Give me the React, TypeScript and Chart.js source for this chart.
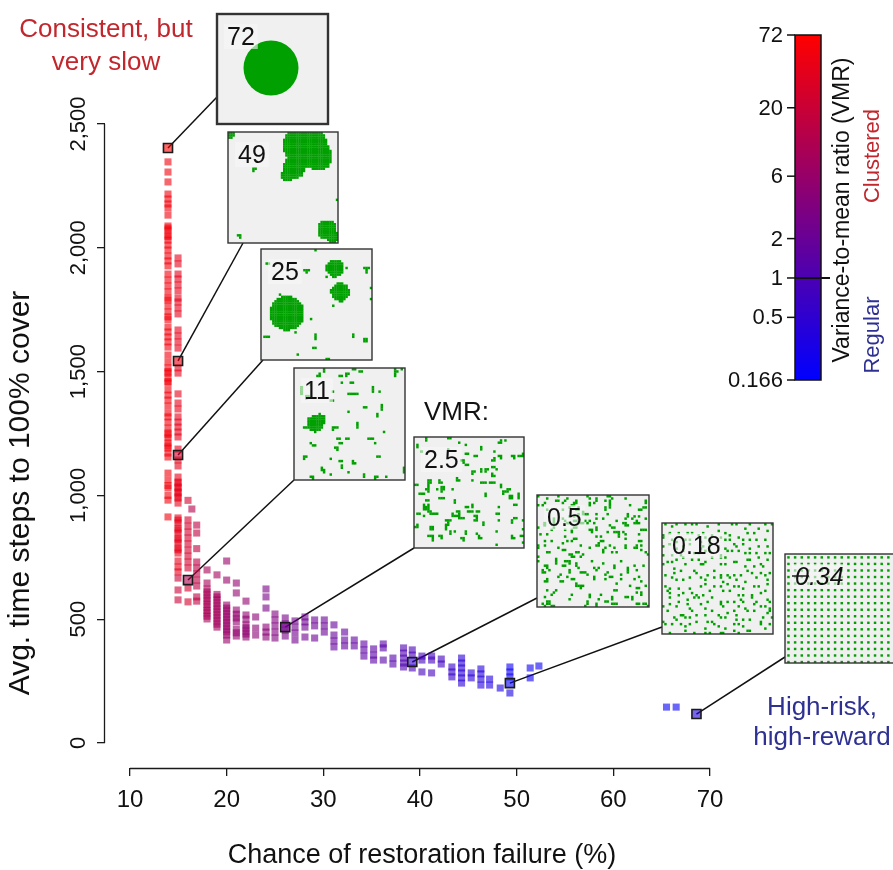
import { useEffect, useRef } from 'react';
import { Chart, registerables } from 'chart.js';

Chart.register(...registerables);

const FONT = '"Liberation Sans", Arial, sans-serif';

// ---------- data ----------
const xTicks = [10, 20, 30, 40, 50, 60, 70];
const yTicks = [0, 500, 1000, 1500, 2000, 2500];
const xTitle = 'Chance of restoration failure (%)';
const yTitle = 'Avg. time steps to 100% cover';
const vmrTicks = [72, 20, 6, 2, 1, 0.5, 0.166];
const vmrTickLabels = ['72', '20', '6', '2', '1', '0.5', '0.166'];
const vmrRange = [0.166, 72];
const colorbarTitle = 'Variance-to-mean ratio (VMR)';

// groups of simulation runs: failure %, VMR and the time-steps of each run
const groupFailure = [
  13.93, 14.97, 14.97, 16.0, 16.4, 16.9, 17.97, 19.0, 20.0, 21.0, 22.0, 23.0, 24.07, 24.07,
  25.0, 26.06, 27.07, 28.1, 29.1, 30.1, 31.1, 32.2, 33.2, 34.2, 35.2, 36.2, 37.2, 38.3,
  39.2, 40.2, 41.2, 42.2, 43.3, 44.3, 45.3, 46.3, 47.2, 48.3, 49.3, 49.3, 51.4, 52.3, 65.5, 66.5,
];
const groupVmr = [
  55, 40, 20, 25, 12, 15, 9, 8, 6, 5.5, 5, 4.5, 3, 4.5,
  3.5, 2.8, 2.5, 2.3, 2.1, 2.0, 1.8, 1.7, 1.6, 1.5, 1.4, 1.3, 1.2, 1.1,
  0.9, 0.85, 0.8, 0.75, 0.6, 0.45, 0.45, 0.4, 0.35, 0.3, 0.3, 0.22, 0.22, 0.22, 0.2, 0.2,
];
const groupTimes = [
  [2347, 2306, 2266, 2217, 2197, 2177, 2161, 2132, 2088, 2080, 2072, 2052, 2045, 2031, 2011, 1991,
    1967, 1947, 1927, 1894, 1870, 1846, 1822, 1797, 1789, 1765, 1741, 1721, 1710, 1680, 1660, 1640,
    1620, 1599, 1567, 1539, 1515, 1500, 1494, 1474, 1460, 1454, 1426, 1405, 1385, 1361, 1333, 1317,
    1296, 1272, 1252, 1245, 1232, 1212, 1200, 1191, 1171, 1155, 1090, 1062, 1040, 1030, 1000, 981, 913],
  [1959, 1935, 1894, 1874, 1850, 1826, 1797, 1781, 1757, 1733, 1668, 1644, 1620, 1595, 1515, 1494,
    1410, 1373, 1349, 1317, 1296, 1276, 1256, 1236, 1187, 1143, 1119, 1074, 1054, 1050, 1034, 1030,
    1014, 1010, 994, 989, 969, 909, 900, 889, 868, 860, 848, 828, 820, 808, 788, 780, 767, 735, 711, 691],
  [666, 618, 578],
  [980, 901, 876, 852, 828, 804, 779, 755, 731, 707, 626, 570],
  [945],
  [880, 848, 785, 731, 707, 683, 658, 634, 590, 573],
  [699, 646, 622, 610, 598, 585, 574, 560, 549, 535, 525, 512, 501],
  [679, 600, 590, 578, 565, 553, 541, 529, 517, 505, 493, 480, 468],
  [735, 658, 557, 545, 533, 521, 509, 497, 485, 472, 460, 448, 436, 416],
  [646, 606, 537, 520, 505, 490, 460, 445, 432],
  [573, 517, 500, 477, 465, 452, 440, 428],
  [509, 464, 436],
  [622, 590, 545],
  [468, 448, 428],
  [521, 497, 473, 448, 424],
  [505, 481, 456, 432],
  [493, 468, 444, 416],
  [509, 489, 468, 428],
  [497, 473, 424],
  [497, 473, 448],
  [477, 436, 412, 388],
  [448, 416, 392],
  [416, 392],
  [400, 376, 351],
  [380, 355, 335],
  [400, 384, 335],
  [343, 319],
  [384, 363, 343, 323, 307],
  [376, 355, 303],
  [351, 335, 287],
  [351, 335, 283],
  [339, 319],
  [307, 287, 267],
  [343, 323, 303, 283, 263, 242],
  [283, 263],
  [299, 279, 258, 234],
  [258, 234],
  [222],
  [202],
  [307, 287, 267],
  [303, 263],
  [311],
  [145],
  [145],
];

// highlighted example runs shown as landscape insets
const exampleFailure = [13.93, 14.97, 14.97, 16.0, 26.06, 39.2, 49.3, 68.6];
const exampleTime = [2403, 1543, 1163, 658, 468, 327, 242, 117];
const exampleVmr = [72, 49, 25, 11, 2.5, 0.5, 0.18, 0.34];
const exampleLabels = ['72', '49', '25', '11', '2.5', '0.5', '0.18', '0.34'];

// ---------- layout (pixels) ----------
const W = 893;
const H = 870;
const AXIS_LEFT = 105;
const AXIS_BOTTOM = 768;
const X_PX_PER_UNIT = 580 / 60;
const Y_PX_PER_UNIT = 619 / 2500;
const X_MIN = 10 - (130 - AXIS_LEFT) / X_PX_PER_UNIT;
const X_MAX = X_MIN + (W - AXIS_LEFT) / X_PX_PER_UNIT;
const Y_MIN = -(AXIS_BOTTOM - 743) / Y_PX_PER_UNIT;
const Y_MAX = Y_MIN + AXIS_BOTTOM / Y_PX_PER_UNIT;

const insetBoxes = [
  { x: 217, y: 14, w: 111, h: 110, ax: 217, ay: 97, lw: 2.4 },
  { x: 228, y: 132, w: 110, h: 111, ax: 243, ay: 243, lw: 1.4 },
  { x: 261, y: 249, w: 111, h: 111, ax: 263, ay: 360, lw: 1.4 },
  { x: 294, y: 368, w: 111, h: 112, ax: 294, ay: 480, lw: 1.4 },
  { x: 414, y: 437, w: 110, h: 111, ax: 414, ay: 548, lw: 1.4 },
  { x: 537, y: 495, w: 112, h: 112, ax: 537, ay: 598, lw: 1.4 },
  { x: 662, y: 523, w: 111, h: 111, ax: 662, ay: 627, lw: 1.4 },
  { x: 785, y: 554, w: 111, h: 109, ax: 785, ay: 657, lw: 1.4 },
];

const CB = { left: 795, right: 821, top: 35, bottom: 380 };

// ---------- helpers ----------
const LMIN = Math.log10(vmrRange[0]);
const LMAX = Math.log10(vmrRange[1]);
function vmrT(v: number) {
  const t = (Math.log10(v) - LMIN) / (LMAX - LMIN);
  return Math.max(0, Math.min(1, t));
}
function vmrColor(v: number, a: number) {
  const t = vmrT(v);
  return `rgba(${Math.round(255 * t)},0,${Math.round(255 * (1 - t))},${a})`;
}

function mulberry(seed: number) {
  let a = seed;
  return () => {
    a |= 0;
    a = (a + 0x6d2b79f5) | 0;
    let t = Math.imul(a ^ (a >>> 15), 1 | a);
    t = (t + Math.imul(t ^ (t >>> 7), 61 | t)) ^ t;
    return ((t ^ (t >>> 14)) >>> 0) / 4294967296;
  };
}

type Circle = [number, number, number];
const insetCircles: Circle[][] = [
  [],
  [[35, 6, 10], [41, 11, 6.5], [30, 16, 5], [27, 19.5, 3], [0, 0, 3.5], [45, 44, 4.5], [47.5, 47, 3]],
  [[11.7, 28.8, 7.8], [33.3, 8.6, 4], [35.6, 19.4, 4.2]],
  [[9.5, 24.8, 3.8], [11.5, 23, 2.5]],
  [], [], [], [],
];
const insetSpecks: number[][][] = [
  [],
  [[11, 16], [12, 16], [11, 17], [4, 46], [5, 46], [5, 47], [49, 30], [26, 7]],
  [[2, 6], [3, 6], [19, 9], [20, 9], [21, 9], [20, 10], [29, 12], [46, 8], [47, 8], [48, 8], [47, 9],
    [47, 10], [49, 17], [49, 22], [22, 31], [24, 38], [24, 39], [24, 40], [23, 44], [24, 44], [1, 39],
    [2, 39], [3, 39], [41, 38], [41, 39], [46, 40], [47, 40], [46, 41], [47, 41], [16, 47], [29, 49],
    [30, 49], [24, 0], [32, 25], [38, 8], [8, 20], [15, 37]],
  [], [], [], [], [],
];

function buildCells(idx: number): boolean[] {
  const N = 50;
  const g: boolean[] = new Array(N * N).fill(false);
  const set = (x: number, y: number) => {
    if (x >= 0 && x < N && y >= 0 && y < N) g[y * N + x] = true;
  };
  for (const [cx, cy, r] of insetCircles[idx]) {
    for (let j = 0; j < N; j++)
      for (let i = 0; i < N; i++) {
        const dx = i + 0.5 - cx;
        const dy = j + 0.5 - cy;
        if (dx * dx + dy * dy <= r * r) set(i, j);
      }
  }
  for (const [x, y] of insetSpecks[idx]) set(x, y);
  const r = mulberry(1000 + idx * 77);
  const clumps = (count: number, maxSize: number) => {
    for (let k = 0; k < count; k++) {
      let cx = Math.floor(r() * N);
      let cy = Math.floor(r() * N);
      const n = 1 + Math.floor(r() * maxSize);
      const horiz = r() < 0.5;
      for (let s = 0; s < n; s++) {
        set(cx, cy);
        const q = r();
        if (q < 0.65) {
          if (horiz) cx++; else cy++;
        } else if (q < 0.85) {
          if (horiz) cy++; else cx++;
        } else {
          if (horiz) cy--; else cx--;
        }
      }
    }
  };
  if (idx === 3) {
    clumps(46, 3);
    clumps(8, 5);
  } else if (idx === 4) {
    clumps(105, 3);
  } else if (idx === 5) {
    for (let k = 0; k < 255; k++) {
      const x = Math.floor(r() * N);
      const y = Math.floor(r() * N);
      set(x, y);
      if (r() < 0.2) {
        if (r() < 0.5) set(x + 1, y); else set(x, y + 1);
      }
    }
  } else if (idx === 6) {
    for (let gx = 0; gx < 17; gx++)
      for (let gy = 0; gy < 17; gy++) {
        if (r() < 0.88) set(gx * 3 + Math.floor(r() * 3), gy * 3 + Math.floor(r() * 3));
      }
  } else if (idx === 7) {
    for (let gx = 1; gx < N; gx += 3) for (let gy = 1; gy < N; gy += 3) set(gx, gy);
  }
  return g;
}

const cellCache: boolean[][] = insetBoxes.map((_, i) => buildCells(i));

function rotatedText(ctx: CanvasRenderingContext2D, text: string, x: number, y: number) {
  ctx.save();
  ctx.translate(x, y);
  ctx.rotate(-Math.PI / 2);
  ctx.textAlign = 'center';
  ctx.textBaseline = 'middle';
  ctx.fillText(text, 0, 0);
  ctx.restore();
}

const GREEN = 'rgb(0,160,0)';

const decorPlugin = {
  id: 'decor',
  beforeDatasetsDraw(chart: any) {
    const ctx: CanvasRenderingContext2D = chart.ctx;
    const xs = chart.scales.x;
    const ys = chart.scales.y;
    ctx.save();
    ctx.strokeStyle = '#1a1a1a';
    ctx.lineWidth = 1.3;
    ctx.beginPath();
    ctx.moveTo(xs.getPixelForValue(xTicks[0]), AXIS_BOTTOM + 0.5);
    ctx.lineTo(xs.getPixelForValue(xTicks[xTicks.length - 1]), AXIS_BOTTOM + 0.5);
    ctx.moveTo(AXIS_LEFT - 0.5, ys.getPixelForValue(yTicks[0]));
    ctx.lineTo(AXIS_LEFT - 0.5, ys.getPixelForValue(yTicks[yTicks.length - 1]));
    ctx.stroke();
    ctx.lineWidth = 1.5;
    ctx.strokeStyle = '#111';
    insetBoxes.forEach((b, i) => {
      const px = xs.getPixelForValue(exampleFailure[i]);
      const py = ys.getPixelForValue(exampleTime[i]);
      ctx.beginPath();
      ctx.moveTo(px, py);
      ctx.lineTo(b.ax, b.ay);
      ctx.stroke();
    });
    ctx.restore();
  },
  afterDraw(chart: any) {
    const ctx: CanvasRenderingContext2D = chart.ctx;
    const ys = chart.scales.y;
    ctx.save();

    // y tick labels (rotated, R style)
    ctx.fillStyle = '#111';
    ctx.font = `22px ${FONT}`;
    ys.ticks.forEach((t: any) => {
      const py = ys.getPixelForValue(t.value);
      rotatedText(ctx, Number(t.value).toLocaleString('en-US'), 79, py);
    });

    // axis titles
    ctx.font = `27px ${FONT}`;
    ctx.fillStyle = '#111';
    ctx.textAlign = 'center';
    ctx.textBaseline = 'middle';
    ctx.fillText(xTitle, 422, 856);
    ctx.font = `30px ${FONT}`;
    rotatedText(ctx, yTitle, 21, 493);

    // insets
    insetBoxes.forEach((b, i) => {
      ctx.save();
      ctx.fillStyle = '#f0f0f0';
      ctx.fillRect(b.x, b.y, b.w, b.h);
      ctx.beginPath();
      ctx.rect(b.x, b.y, b.w, b.h);
      ctx.clip();
      const cells = cellCache[i];
      const cw = b.w / 50;
      const ch = b.h / 50;
      ctx.fillStyle = GREEN;
      if (i === 0) {
        ctx.beginPath();
        ctx.arc(b.x + 54, b.y + 54, 27.5, 0, Math.PI * 2);
        ctx.fill();
      }
      for (let j = 0; j < 50; j++)
        for (let k = 0; k < 50; k++) {
          if (cells[j * 50 + k]) ctx.fillRect(b.x + k * cw, b.y + j * ch, cw + 0.25, ch + 0.25);
        }
      const italic = exampleLabels[i] === '0.34';
      ctx.font = `${italic ? 'italic ' : ''}25px ${FONT}`;
      const tw = ctx.measureText(exampleLabels[i]).width;
      ctx.fillStyle = 'rgba(246,246,246,0.6)';
      ctx.fillRect(b.x + 7, b.y + 10, tw + 6, 25);
      ctx.fillStyle = '#111';
      ctx.textAlign = 'left';
      ctx.textBaseline = 'alphabetic';
      ctx.fillText(exampleLabels[i], b.x + 10, b.y + 31);
      if (italic) {
        ctx.strokeStyle = '#111';
        ctx.lineWidth = 1.4;
        ctx.beginPath();
        ctx.moveTo(b.x + 7, b.y + 22);
        ctx.lineTo(b.x + 24, b.y + 22);
        ctx.stroke();
      }
      ctx.restore();
      ctx.strokeStyle = '#333';
      ctx.lineWidth = b.lw;
      ctx.strokeRect(b.x, b.y, b.w, b.h);
    });

    // colour bar
    const grad = ctx.createLinearGradient(0, CB.top, 0, CB.bottom);
    grad.addColorStop(0, vmrColor(vmrRange[1], 1));
    grad.addColorStop(1, vmrColor(vmrRange[0], 1));
    ctx.fillStyle = grad;
    ctx.fillRect(CB.left, CB.top, CB.right - CB.left, CB.bottom - CB.top);
    ctx.strokeStyle = '#111';
    ctx.lineWidth = 1.5;
    ctx.strokeRect(CB.left, CB.top, CB.right - CB.left, CB.bottom - CB.top);
    const cbY = (v: number) => CB.bottom - vmrT(v) * (CB.bottom - CB.top);
    ctx.font = `22px ${FONT}`;
    ctx.fillStyle = '#111';
    ctx.textAlign = 'right';
    ctx.textBaseline = 'middle';
    vmrTicks.forEach((v, i) => {
      const y = cbY(v);
      ctx.beginPath();
      ctx.moveTo(CB.left - 8, y);
      ctx.lineTo(CB.left, y);
      ctx.stroke();
      ctx.fillText(vmrTickLabels[i], CB.left - 12, y + 1);
    });
    ctx.lineWidth = 1.8;
    ctx.beginPath();
    ctx.moveTo(CB.left, cbY(1));
    ctx.lineTo(CB.right + 9, cbY(1));
    ctx.stroke();
    ctx.font = `23px ${FONT}`;
    ctx.fillStyle = '#111';
    rotatedText(ctx, colorbarTitle, 843, 210);
    ctx.font = `22px ${FONT}`;
    ctx.fillStyle = '#c1272d';
    rotatedText(ctx, 'Clustered', 873, 156);
    ctx.fillStyle = '#2e3192';
    rotatedText(ctx, 'Regular', 873, 335);

    // annotations
    ctx.font = `26px ${FONT}`;
    ctx.textAlign = 'center';
    ctx.textBaseline = 'alphabetic';
    ctx.fillStyle = '#c1272d';
    ctx.fillText('Consistent, but', 106, 37);
    ctx.fillText('very slow', 106, 70);
    ctx.fillStyle = '#2e3192';
    ctx.fillText('High-risk,', 822, 715);
    ctx.fillText('high-reward', 822, 745);
    ctx.fillStyle = '#111';
    ctx.textAlign = 'left';
    ctx.fillText('VMR:', 424, 420);

    ctx.restore();
  },
};

export default function App() {
  const ref = useRef<HTMLCanvasElement>(null);
  useEffect(() => {
    const canvas = ref.current;
    if (!canvas) return;
    const pts: { x: number; y: number }[] = [];
    const cols: string[] = [];
    groupTimes.forEach((times, g) =>
      times.forEach((t) => {
        pts.push({ x: groupFailure[g], y: t });
        cols.push(vmrColor(groupVmr[g], 0.6));
      }),
    );
    const ex = exampleFailure.map((x, i) => ({ x, y: exampleTime[i] }));
    const chart = new Chart(canvas, {
      type: 'scatter',
      data: {
        datasets: [
          {
            data: ex,
            pointStyle: 'rect',
            pointRadius: 6.4,
            backgroundColor: exampleVmr.map((v) => vmrColor(v, 0.6)),
            borderColor: '#1a1a1a',
            borderWidth: 1.6,
            clip: false,
          } as any,
          {
            data: pts,
            pointStyle: 'rect',
            pointRadius: 5,
            backgroundColor: cols,
            borderWidth: 0,
            clip: false,
          } as any,
        ],
      },
      options: {
        responsive: false,
        animation: false,
        events: [],
        layout: { padding: 0, autoPadding: false },
        plugins: { legend: { display: false }, tooltip: { enabled: false }, title: { display: false } },
        scales: {
          x: {
            type: 'linear',
            min: X_MIN,
            max: X_MAX,
            afterFit: (s: any) => {
              s.height = H - AXIS_BOTTOM;
            },
            afterBuildTicks: (s: any) => {
              s.ticks = xTicks.map((v) => ({ value: v }));
            },
            border: { display: false },
            grid: { drawOnChartArea: false, drawTicks: true, tickLength: 8, color: '#1a1a1a', lineWidth: 1.3 },
            ticks: { font: { family: FONT, size: 24 }, color: '#111', padding: 10, maxRotation: 0, autoSkip: false },
          },
          y: {
            type: 'linear',
            min: Y_MIN,
            max: Y_MAX,
            afterFit: (s: any) => {
              s.width = AXIS_LEFT;
            },
            afterBuildTicks: (s: any) => {
              s.ticks = yTicks.map((v) => ({ value: v }));
            },
            border: { display: false },
            grid: { drawOnChartArea: false, drawTicks: true, tickLength: 8, color: '#1a1a1a', lineWidth: 1.3 },
            ticks: { display: false },
          },
        },
      } as any,
      plugins: [decorPlugin],
    });
    return () => chart.destroy();
  }, []);
  return (
    <div style={{ position: 'absolute', left: 0, top: 0, width: W, height: H, background: '#fff', overflow: 'hidden' }}>
      <canvas ref={ref} width={W} height={H} style={{ width: W, height: H, display: 'block' }} />
    </div>
  );
}
